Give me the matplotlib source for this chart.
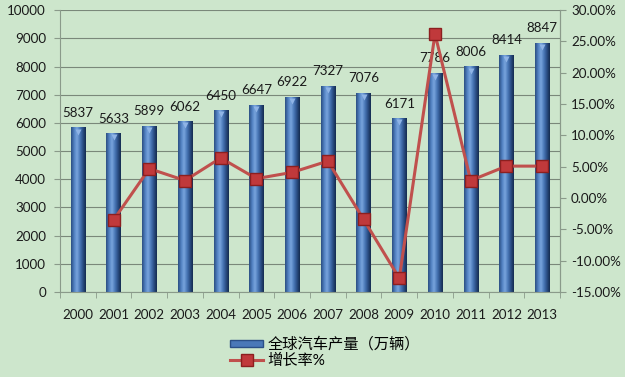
import matplotlib
matplotlib.use('Agg')
import matplotlib.pyplot as plt
import numpy as np
from matplotlib.lines import Line2D
from matplotlib.patches import Rectangle
from matplotlib.colors import LinearSegmentedColormap

years = ['2000', '2001', '2002', '2003', '2004', '2005', '2006',
         '2007', '2008', '2009', '2010', '2011', '2012', '2013']
production = [5837, 5633, 5899, 6062, 6450, 6647, 6922,
              7327, 7076, 6171, 7786, 8006, 8414, 8847]
growth_years = years[1:]
growth = [-3.5, 4.7, 2.8, 6.4, 3.1, 4.1, 5.9, -3.4, -12.8, 26.2, 2.8, 5.1, 5.1]
left_ticks = [0, 1000, 2000, 3000, 4000, 5000, 6000, 7000, 8000, 9000, 10000]
right_ticks = [-15, -10, -5, 0, 5, 10, 15, 20, 25, 30]
bar_label = '全球汽车产量（万辆）'
line_label = '增长率%'

plt.rcParams['font.family'] = ['Lato', 'Noto Sans CJK SC', 'DejaVu Sans']
BG = '#cde6cc'
FS = 9.6

fig = plt.figure(figsize=(6.25, 3.77), dpi=100, facecolor=BG)
ax = fig.add_axes([0.096, 0.2255, 0.8, 0.7475])
ax.set_facecolor(BG)
x = np.arange(len(years))
w = 0.4
ax.set_xlim(-0.5, len(years) - 0.5)
ax.set_ylim(0, 10000)

cmap = LinearSegmentedColormap.from_list('cyl', ['#2a4d80', '#4f7fc0', '#7aa6de', '#4a78b8', '#2b4f86', '#142a4e'])
grad = np.linspace(0, 1, 64).reshape(1, -1)
bars = ax.bar(x, production, width=w, color='#4a78b8', zorder=2, edgecolor='none')
for b in bars:
    x0, h = b.get_x(), b.get_height()
    im = ax.imshow(grad, cmap=cmap, extent=[x0, x0 + w, 0, h], aspect='auto', zorder=2.1, interpolation='bicubic')
    im.set_clip_path(b)
    ax.plot([x0 + w / 2], [h - 150], marker='v', ms=5, color='#8fb4e6', mec='none', zorder=2.2)
for xi, v in zip(x, production):
    ax.text(xi, v + 300, str(v), ha='center', va='bottom', fontsize=FS, color='#1a1a1a', zorder=3)

ax.set_yticks(left_ticks)
ax.yaxis.grid(True, color='#7a887a', lw=0.8)
ax.set_axisbelow(True)
ax.set_xticks(x)
ax.set_xticklabels(years)
ax.set_xticks(np.arange(-0.5, len(years), 1), minor=True)
ax.tick_params(axis='x', which='major', length=0, labelsize=FS, pad=12, colors='#1a1a1a')
ax.tick_params(axis='x', which='minor', length=4, direction='out', color='#8a9a8a')
ax.tick_params(axis='y', length=4, direction='out', color='#8a9a8a', labelsize=FS, labelcolor='#1a1a1a', pad=6)
for s in ['top']:
    ax.spines[s].set_visible(False)
for s in ['left', 'bottom', 'right']:
    ax.spines[s].set_color('#8a9a8a')

ax2 = ax.twinx()
ax2.set_ylim(-15, 30)
ax2.set_yticks(right_ticks)
ax2.set_yticklabels(['%.2f%%' % t for t in right_ticks])
ax2.tick_params(axis='y', length=4, direction='out', color='#8a9a8a', labelsize=FS, labelcolor='#1a1a1a', pad=4)
for s in ['top', 'left', 'bottom']:
    ax2.spines[s].set_visible(False)
ax2.spines['right'].set_color('#8a9a8a')
ax2.plot(x[1:], growth, color='#c0504d', lw=2.2, marker='s', ms=9,
         mfc='#c0393b', mec='#8c1f1f', mew=1.0, zorder=5)

h1 = Rectangle((0, 0), 1, 1, facecolor='#4a78b8', edgecolor='#2b4f86')
h2 = Line2D([], [], color='#c0504d', lw=2.2, marker='s', ms=8, mfc='#c0393b', mec='#8c1f1f')
fig.legend([h1, h2], [bar_label, line_label], loc='upper left',
           bbox_to_anchor=(0.358, 0.122), frameon=False, fontsize=11,
           handlelength=2.2, handleheight=0.4, labelspacing=0.1, borderaxespad=0, handletextpad=0.25)

fig.savefig('out.png', dpi=100, facecolor=BG)
